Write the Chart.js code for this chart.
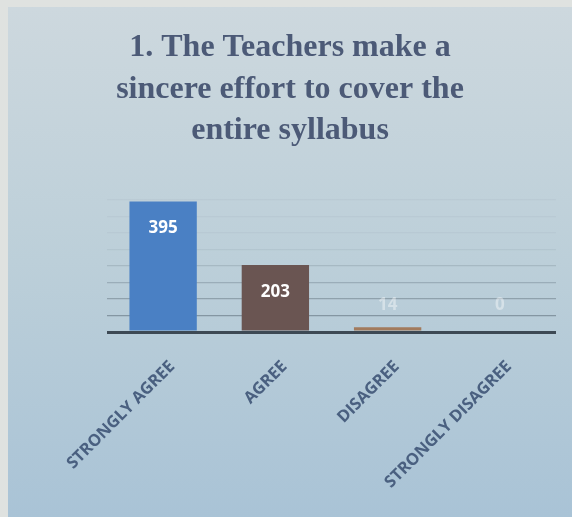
<!DOCTYPE html>
<html>
<head>
<meta charset="utf-8">
<script src="https://cdn.jsdelivr.net/npm/chart.js@4.4.1/dist/chart.umd.min.js"></script>
<style>
  html, body { margin: 0; padding: 0; background: #dfe2e0; }
  #wrap { position: absolute; left: 8px; top: 7px; width: 564px; height: 510px; }
</style>
</head>
<body>
<div id="wrap"><canvas id="surveyChart"></canvas></div>
<script>
const titleLines = ['1. The Teachers make a', 'sincere effort to cover the', 'entire syllabus'];
const categories = ['STRONGLY AGREE', 'AGREE', 'DISAGREE', 'STRONGLY DISAGREE'];
const responses = [395, 203, 14, 0];
const barColors = ['#4a80c4', '#6a5552', '#a27a5c', '#8a8a8a'];

// panel gradient behind the plot
const panelBg = {
    id: 'panelBg',
    beforeDraw(chart) {
        const ctx = chart.ctx;
        const g = ctx.createLinearGradient(0, 0, 0, chart.height);
        g.addColorStop(0, '#cdd8de');
        g.addColorStop(0.5, '#bccfd9');
        g.addColorStop(1, '#a9c3d6');
        ctx.save();
        ctx.fillStyle = g;
        ctx.fillRect(0, 0, chart.width, chart.height);
        ctx.restore();
    }
};

// white value labels near the top of each bar
const valueLabels = {
    id: 'valueLabels',
    afterDatasetsDraw(chart) {
        const ctx = chart.ctx;
        const meta = chart.getDatasetMeta(0);
        const base = chart.scales.y.getPixelForValue(0);
        ctx.save();
        ctx.font = 'bold 17px "Open Sans"';
        ctx.textAlign = 'center';
        ctx.textBaseline = 'middle';
        meta.data.forEach(function (bar, i) {
            let y = bar.y + 27;
            let faint = false;
            if (y > base - 27) {
                y = base - 27;
                faint = true;
            }
            ctx.fillStyle = faint ? 'rgba(255,255,255,0.4)' : '#ffffff';
            ctx.fillText(String(responses[i]), bar.x, y);
        });
        ctx.restore();
    }
};

new Chart(document.getElementById('surveyChart').getContext('2d'), {
    type: 'bar',
    data: {
        labels: categories,
        datasets: [{
            data: responses,
            backgroundColor: barColors,
            barPercentage: 0.6,
            categoryPercentage: 1.0
        }]
    },
    options: {
        responsive: true,
        maintainAspectRatio: false,
        animation: false,
        layout: { padding: { left: 16, right: 16, top: 0, bottom: 0 } },
        plugins: {
            legend: { display: false },
            tooltip: { enabled: false },
            title: {
                display: true,
                text: titleLines,
                color: '#4c5a77',
                font: { family: '"Liberation Serif"', size: 32, weight: 'bold', lineHeight: 1.3 },
                padding: { top: 20, bottom: 48 }
            }
        },
        scales: {
            x: {
                grid: { display: false, drawTicks: false },
                border: { display: false },
                ticks: {
                    color: '#4a6080',
                    font: { family: '"Open Sans"', size: 16.5, weight: 'bold' },
                    minRotation: 45,
                    maxRotation: 45,
                    autoSkip: false,
                    padding: 25,
                    labelOffset: 9
                },
                afterFit: function (scale) { scale.height = 185; }
            },
            y: {
                min: 0,
                max: 400,
                ticks: { display: false, stepSize: 50 },
                border: { display: false },
                grid: {
                    drawTicks: false,
                    color: function (c) {
                        if (c.tick.value === 0) return '#3d4954';
                        const a = Math.max(0.06, 0.7 - c.tick.value / 420);
                        return 'rgba(95,110,122,' + a + ')';
                    },
                    lineWidth: function (c) { return c.tick.value === 0 ? 3 : 1.2; }
                },
                afterFit: function (scale) { scale.width = 83; }
            }
        }
    },
    plugins: [panelBg, valueLabels]
});
</script>
</body>
</html>
